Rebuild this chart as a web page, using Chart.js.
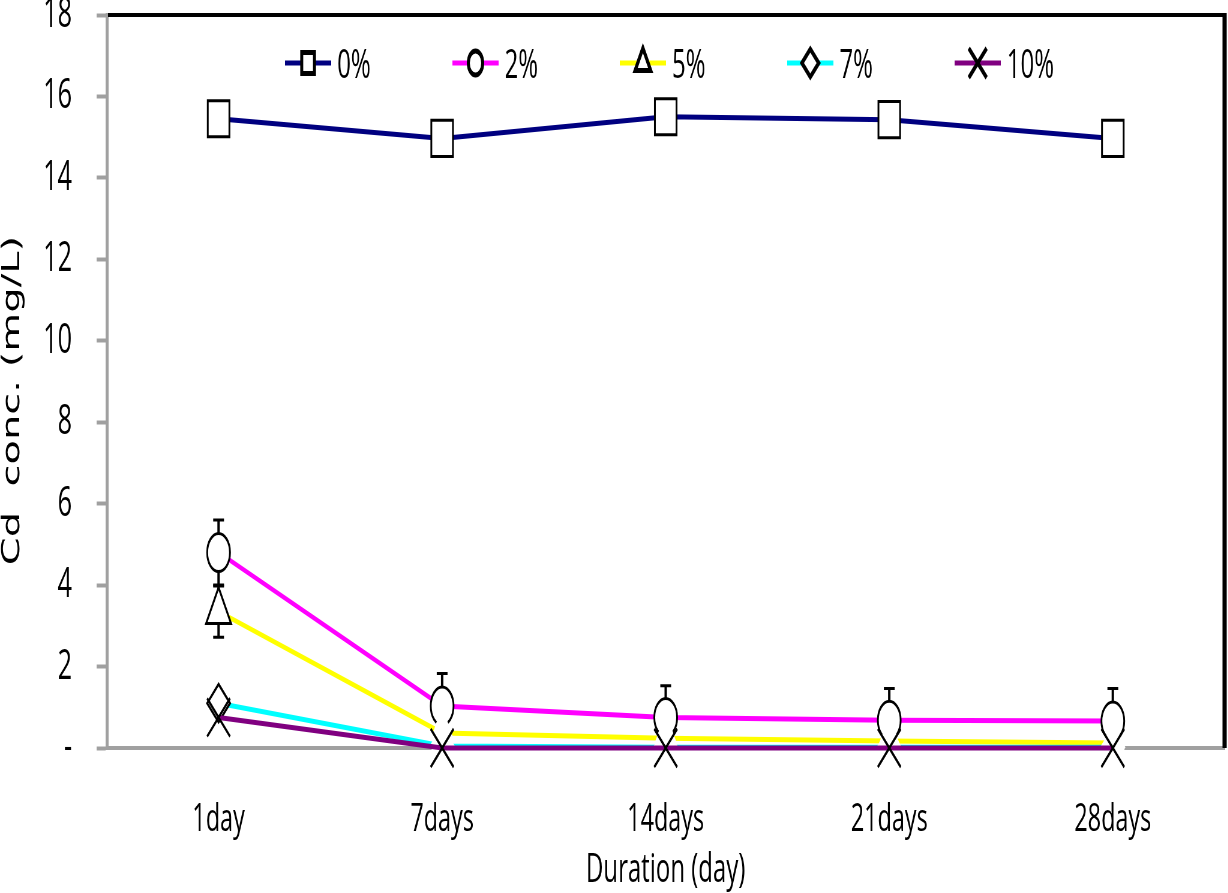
<!DOCTYPE html>
<html>
<head>
<meta charset="utf-8">
<title>Cd conc. vs duration</title>
<script src="https://cdn.jsdelivr.net/npm/chart.js@4.4.0/dist/chart.umd.min.js"></script>
<style>
    html, body { margin: 0; padding: 0; overflow: hidden; background: #fff; }
    #chartBox { width: 1228px; height: 893px; overflow: hidden; }
    /* the original figure is squeezed sideways, so draw wide and squeeze */
    #cdChart { display: block; transform: scaleX(0.6); transform-origin: 0 0; }
</style>
</head>
<body>
<div id="chartBox"><canvas id="cdChart" width="2047" height="893"></canvas></div>
<script>
// ========================================
// DATA
// ========================================
const days = ['1day', '7days', '14days', '21days', '28days'];
const doseLabels = ['0%', '2%', '5%', '7%', '10%'];

const cd0 = [15.45, 14.97, 15.5, 15.43, 14.97];
const cd2 = [4.8, 1.03, 0.75, 0.68, 0.66];
const cd5 = [3.35, 0.37, 0.24, 0.17, 0.12];
const cd7 = [1.1, 0.05, 0.02, 0.02, 0.02];
const cd10 = [0.75, 0, 0, 0, 0];

const err0 = [0, 0, 0, 0, 0];
const err2 = [0.8, 0.8, 0.78, 0.78, 0.8];
const err5 = [0.63, 0, 0, 0, 0];
const err7 = [0, 0, 0, 0, 0];
const err10 = [0, 0, 0, 0, 0];

const yTickLabels = ['-', '2', '4', '6', '8', '10', '12', '14', '16', '18'];

// ========================================
// STYLES
// ========================================
const values = [cd0, cd2, cd5, cd7, cd10];
const errors = [err0, err2, err5, err7, err10];
const colors = ['#000080', '#ff00ff', '#ffff00', '#00ffff', '#800080'];
const markers = ['rect', 'circle', 'triangle', 'rectRot', 'crossRot'];
const markerSize = [25.5, 19, 24, 19, 27];
const legendMarkerSize = [15, 12, 15, 14, 21];
const AXIS_GREY = '#a0a0a0';

// markers of 5% and 7% after day 1 are hidden under the X in the original
function markerBorder(di) {
    return values[di].map((v, i) => (di >= 2 && di <= 3 && i > 0) ? '#ffffff' : '#000000');
}

const datasets = values.map((vals, di) => ({
    label: doseLabels[di],
    data: vals,
    borderColor: colors[di],
    backgroundColor: colors[di],
    borderWidth: 5,
    tension: 0,
    pointStyle: markers[di],
    pointRadius: markerSize[di],
    pointBorderWidth: 3,
    pointBorderColor: markerBorder(di),
    pointBackgroundColor: '#ffffff',
    order: 5 - di,
    clip: false
}));

// ========================================
// PLUGINS
// ========================================

// Error bars (under the lines and markers)
const errorBars = {
    id: 'errorBars',
    beforeDatasetsDraw(chart) {
        const ctx = chart.ctx;
        const xs = chart.scales.x;
        const ys = chart.scales.y;
        ctx.save();
        ctx.strokeStyle = '#000';
        errors.forEach((errs, di) => {
            errs.forEach((e, i) => {
                if (!e) return;
                const px = xs.getPixelForValue(i);
                const top = ys.getPixelForValue(values[di][i] + e);
                const bot = ys.getPixelForValue(values[di][i] - e);
                ctx.lineWidth = 4;
                ctx.beginPath();
                ctx.moveTo(px, top);
                ctx.lineTo(px, bot);
                ctx.stroke();
                ctx.lineWidth = 3;
                ctx.beginPath();
                ctx.moveTo(px - 9, top);
                ctx.lineTo(px + 9, top);
                ctx.moveTo(px - 9, bot);
                ctx.lineTo(px + 9, bot);
                ctx.stroke();
            });
        });
        ctx.restore();
    }
};

// Black frame on top and right of the plot
const plotFrame = {
    id: 'plotFrame',
    beforeDatasetsDraw(chart) {
        const { ctx, chartArea: a } = chart;
        ctx.save();
        ctx.strokeStyle = '#000';
        ctx.lineWidth = 4;
        ctx.beginPath();
        ctx.moveTo(a.left + 2, a.top);
        ctx.lineTo(a.right, a.top);
        ctx.stroke();
        ctx.lineWidth = 7;
        ctx.beginPath();
        ctx.moveTo(a.right, a.top - 2);
        ctx.lineTo(a.right, a.bottom);
        ctx.stroke();
        ctx.restore();
    }
};

// Legend inside the plot: line + marker + label
const lineLegend = {
    id: 'lineLegend',
    afterDraw(chart) {
        const { ctx, chartArea: a } = chart;
        const step = 279;
        const lineLen = 77;
        const lineY = 63;
        ctx.save();
        doseLabels.forEach((label, di) => {
            const x0 = a.left + 297 + di * step;
            ctx.strokeStyle = colors[di];
            ctx.lineWidth = 5;
            ctx.beginPath();
            ctx.moveTo(x0, lineY);
            ctx.lineTo(x0 + lineLen, lineY);
            ctx.stroke();

            ctx.strokeStyle = '#000';
            ctx.fillStyle = '#fff';
            ctx.lineWidth = 5;
            Chart.helpers.drawPoint(ctx, {
                pointStyle: markers[di],
                radius: legendMarkerSize[di],
                borderWidth: 5,
                rotation: 0
            }, x0 + lineLen / 2, lineY);

            ctx.fillStyle = '#000';
            ctx.font = '40px "Open Sans"';
            ctx.textAlign = 'left';
            ctx.textBaseline = 'alphabetic';
            ctx.fillText(label, x0 + lineLen + 10, 78);
        });
        ctx.restore();
    }
};

// ========================================
// CHART
// ========================================
document.addEventListener('DOMContentLoaded', function () {
    const ctx = document.getElementById('cdChart').getContext('2d');

    new Chart(ctx, {
        type: 'line',
        data: { labels: days, datasets: datasets },
        options: {
            responsive: false,
            animation: false,
            devicePixelRatio: 1,
            layout: {
                autoPadding: false,
                padding: { left: 0, right: 6, top: 0, bottom: 0 }
            },
            plugins: {
                legend: { display: false },
                tooltip: { enabled: false }
            },
            scales: {
                x: {
                    offset: true,
                    grid: { display: false },
                    border: { display: true, color: AXIS_GREY, width: 4 },
                    ticks: {
                        color: '#000',
                        padding: 40,
                        font: { family: 'Open Sans', size: 39 }
                    },
                    title: {
                        display: true,
                        text: 'Duration (day)',
                        color: '#000',
                        font: { family: 'Open Sans', size: 40, lineHeight: 1 },
                        padding: { top: 0, bottom: 2 }
                    },
                    afterFit(scale) { scale.height = 145; }
                },
                y: {
                    min: 0,
                    max: 18,
                    grid: {
                        drawOnChartArea: false,
                        tickLength: 17,
                        tickWidth: 4,
                        tickColor: AXIS_GREY
                    },
                    border: { display: true, color: AXIS_GREY, width: 5 },
                    ticks: {
                        stepSize: 2,
                        color: '#000',
                        padding: 41,
                        font: { family: 'Open Sans', size: 42, lineHeight: 1 },
                        callback: (v, i) => yTickLabels[i]
                    },
                    title: {
                        display: true,
                        text: 'Cd  conc. (mg/L)   ',
                        color: '#000',
                        font: { family: 'DejaVu Sans', size: 40, lineHeight: 1 },
                        padding: { top: 2, bottom: 0 }
                    },
                    afterFit(scale) {
                        // label padding would otherwise push the plot down
                        scale.width = 178;
                        scale.paddingTop = 15;
                        scale.paddingBottom = 0;
                    }
                }
            }
        },
        plugins: [errorBars, plotFrame, lineLegend]
    });
});
</script>
</body>
</html>
